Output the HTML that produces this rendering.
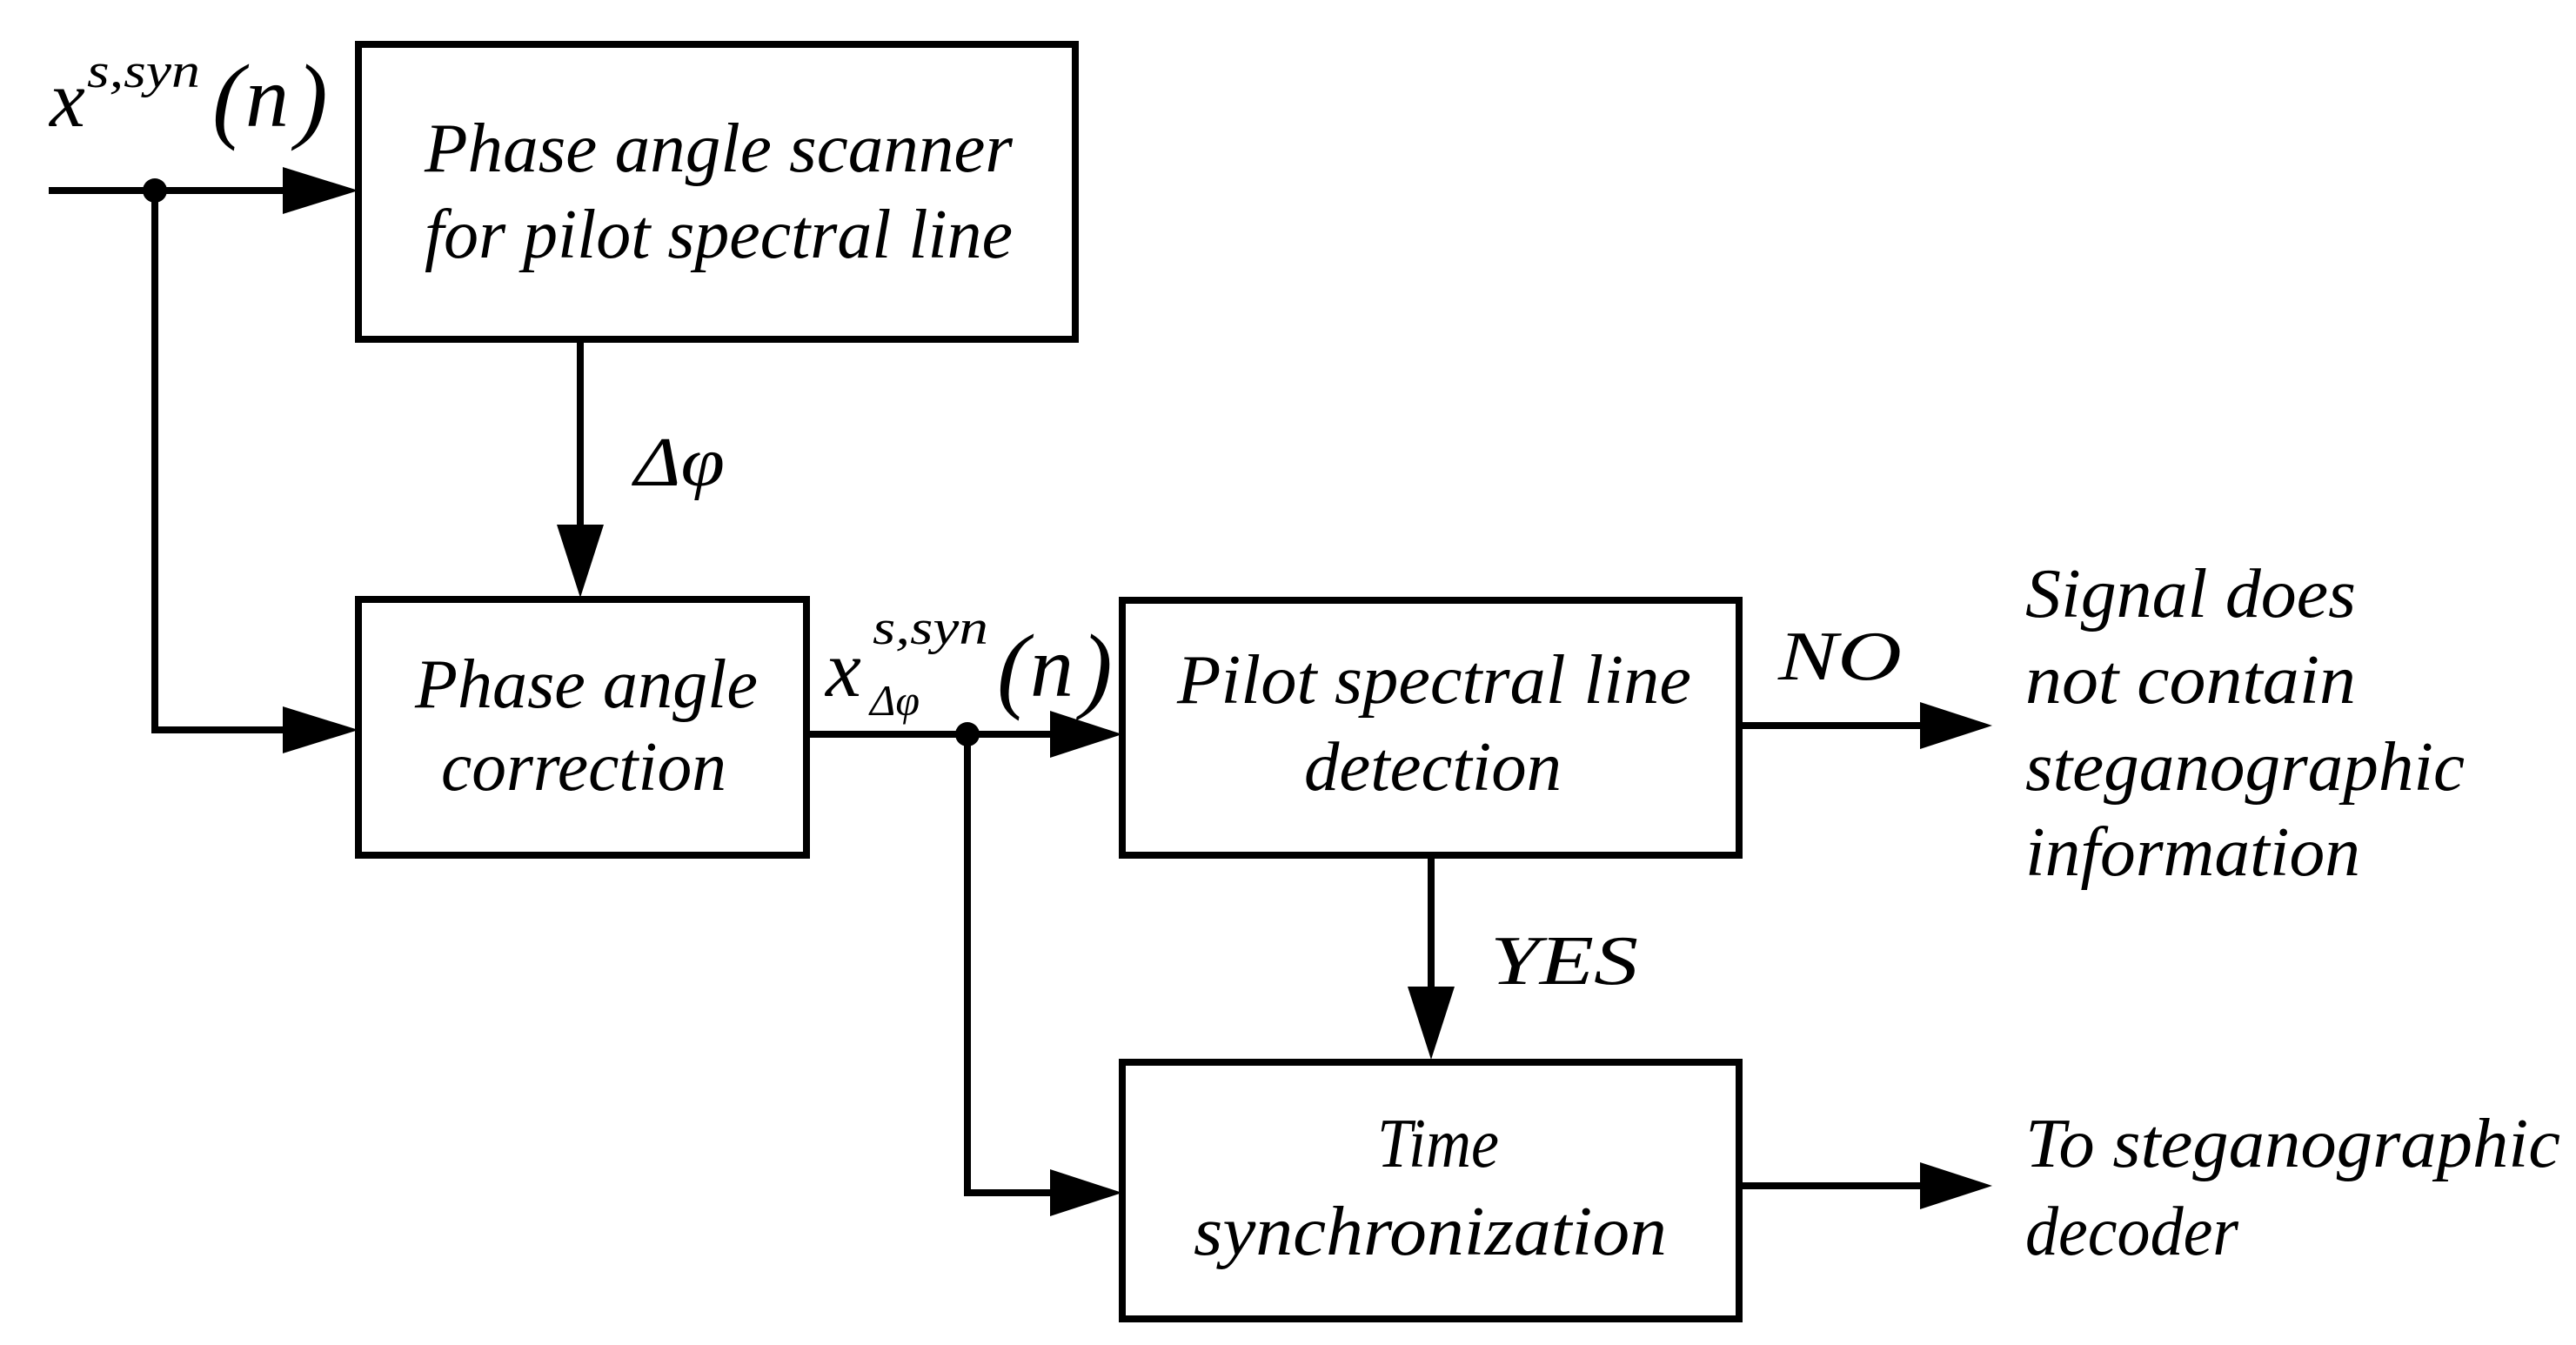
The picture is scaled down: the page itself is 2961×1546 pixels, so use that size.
<!DOCTYPE html>
<html><head><meta charset="utf-8"><style>
html,body{margin:0;padding:0;background:#fff;}
svg{display:block;}
text{font-family:"Liberation Serif",serif;font-style:italic;fill:#000;}
</style></head><body>
<svg width="2961" height="1546" viewBox="0 0 2961 1546" xmlns="http://www.w3.org/2000/svg">
<g fill="none" stroke="#000" stroke-width="8">
<rect x="412" y="51" width="824" height="339"/>
<rect x="412" y="689" width="515" height="294"/>
<rect x="1290" y="690" width="709" height="293"/>
<rect x="1290" y="1221" width="709" height="295"/>
<polyline points="56,219 330,219"/>
<polyline points="178,219 178,839 330,839"/>
<polyline points="667,390 667,608"/>
<polyline points="927,844 1210,844"/>
<polyline points="1112,844 1112,1371 1210,1371"/>
<polyline points="1999,834 2210,834"/>
<polyline points="1645,983 1645,1138"/>
<polyline points="1999,1363 2210,1363"/>
</g>
<g fill="#000">
<circle cx="178" cy="219" r="14"/>
<circle cx="1112" cy="844" r="14"/>
<polygon points="325,192 412,219 325,246"/>
<polygon points="325,812 412,839 325,866"/>
<polygon points="640,603 694,603 667,687"/>
<polygon points="1207,817 1290,844 1207,871"/>
<polygon points="1207,1344 1290,1371 1207,1398"/>
<polygon points="2207,807 2290,834 2207,861"/>
<polygon points="1618,1134 1672,1134 1645,1218"/>
<polygon points="2207,1336 2290,1363 2207,1390"/>
</g>
<g font-size="80">
<text x="488" y="197" textLength="676" lengthAdjust="spacingAndGlyphs">Phase angle scanner</text>
<text x="488" y="296" textLength="676" lengthAdjust="spacingAndGlyphs">for pilot spectral line</text>
<text x="729" y="558" textLength="104" lengthAdjust="spacingAndGlyphs">Δφ</text>
<text x="477" y="813" textLength="394" lengthAdjust="spacingAndGlyphs">Phase angle</text>
<text x="507" y="908" textLength="328" lengthAdjust="spacingAndGlyphs">correction</text>
<text x="1353" y="808" textLength="591" lengthAdjust="spacingAndGlyphs">Pilot spectral line</text>
<text x="1499" y="908" textLength="296" lengthAdjust="spacingAndGlyphs">detection</text>
<text x="1583" y="1341" textLength="140" lengthAdjust="spacingAndGlyphs">Time</text>
<text x="1372" y="1442" textLength="544" lengthAdjust="spacingAndGlyphs">synchronization</text>
<text x="2044" y="781" textLength="142" lengthAdjust="spacingAndGlyphs">NO</text>
<text x="1713" y="1131" textLength="170" lengthAdjust="spacingAndGlyphs">YES</text>
<text x="2328" y="709" textLength="380" lengthAdjust="spacingAndGlyphs">Signal does</text>
<text x="2328" y="808" textLength="380" lengthAdjust="spacingAndGlyphs">not contain</text>
<text x="2328" y="908" textLength="505" lengthAdjust="spacingAndGlyphs">steganographic</text>
<text x="2328" y="1006" textLength="385" lengthAdjust="spacingAndGlyphs">information</text>
<text x="2328" y="1341" textLength="615" lengthAdjust="spacingAndGlyphs">To steganographic</text>
<text x="2328" y="1442" textLength="245" lengthAdjust="spacingAndGlyphs">decoder</text>
</g>
<text x="57" y="145" font-size="92">x</text>
<text x="100" y="100" font-size="56" textLength="130" lengthAdjust="spacingAndGlyphs">s,syn</text>
<text x="244" y="150" font-size="110" font-style="normal">(</text>
<text x="282" y="145" font-size="100">n</text>
<text x="340" y="150" font-size="110" font-style="normal">)</text>
<text x="949" y="800" font-size="92">x</text>
<text x="1003" y="740" font-size="56" textLength="133" lengthAdjust="spacingAndGlyphs">s,syn</text>
<text x="1000" y="822" font-size="50" font-style="normal">Δφ</text>
<text x="1146" y="805" font-size="110" font-style="normal">(</text>
<text x="1184" y="800" font-size="100">n</text>
<text x="1242" y="805" font-size="110" font-style="normal">)</text>
</svg>
</body></html>
